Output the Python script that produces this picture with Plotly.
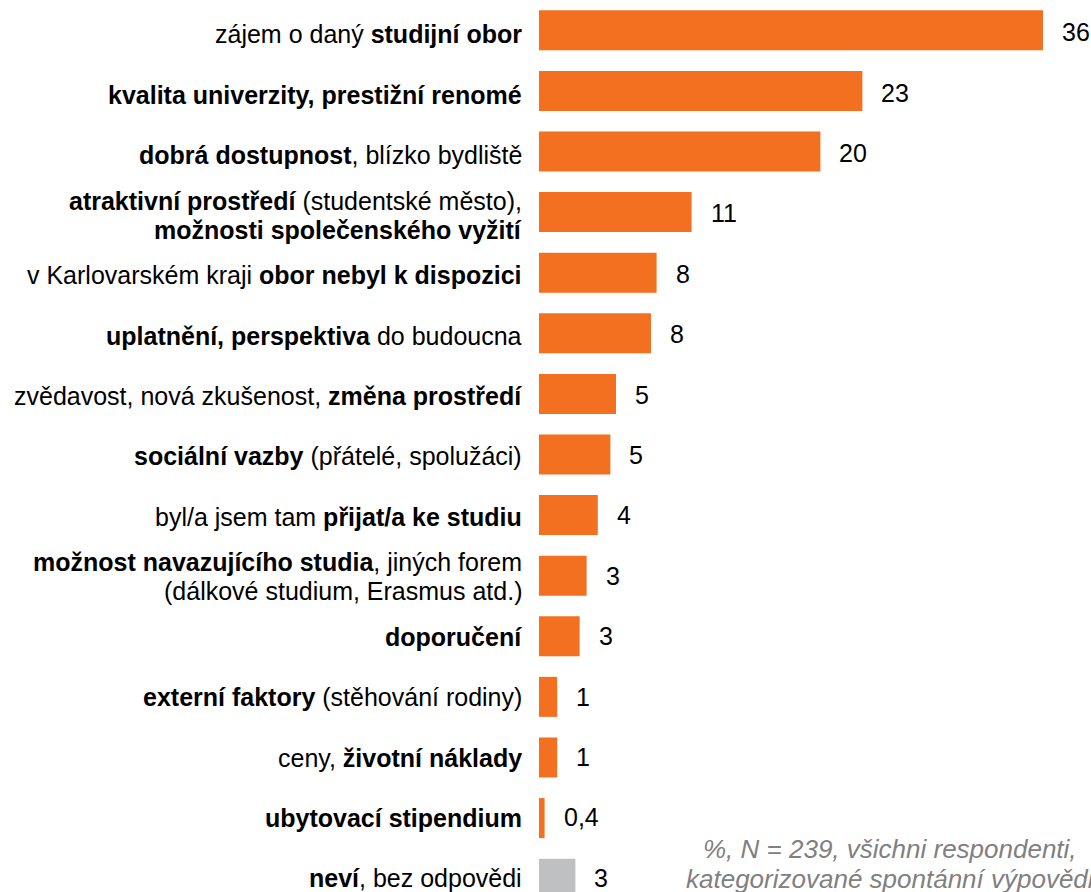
import plotly.graph_objects as go

# Category labels (each list item = one text line; <b> marks bold parts)
categories = [
    ["zájem o daný <b>studijní obor</b>"],
    ["<b>kvalita univerzity, prestižní renomé</b>"],
    ["<b>dobrá dostupnost</b>, blízko bydliště"],
    ["<b>atraktivní prostředí</b> (studentské město),", "<b>možnosti společenského vyžití</b>"],
    ["v Karlovarském kraji <b>obor nebyl k dispozici</b>"],
    ["<b>uplatnění, perspektiva</b> do budoucna"],
    ["zvědavost, nová zkušenost, <b>změna prostředí</b>"],
    ["<b>sociální vazby</b> (přátelé, spolužáci)"],
    ["byl/a jsem tam <b>přijat/a ke studiu</b>"],
    ["<b>možnost navazujícího studia</b>, jiných forem", "(dálkové studium, Erasmus atd.)"],
    ["<b>doporučení</b>"],
    ["<b>externí faktory</b> (stěhování rodiny)"],
    ["ceny, <b>životní náklady</b>"],
    ["<b>ubytovací stipendium</b>"],
    ["<b>neví</b>, bez odpovědi"],
]
values = [36.0, 23.1, 20.1, 10.9, 8.4, 8.0, 5.5, 5.1, 4.2, 3.4, 2.9, 1.3, 1.3, 0.4, 2.6]
value_labels = ["36", "23", "20", "11", "8", "8", "5", "5", "4", "3", "3", "1", "1", "0,4", "3"]
is_no_answer = [False] * 14 + [True]
note_lines = ["%, N = 239, všichni respondenti,", "kategorizované spontánní výpovědi"]

ORANGE = "#F37021"
GREY = "#BFC0C2"
FONT = "Liberation Sans, Arial, sans-serif"

keys = [" ".join(c) for c in categories]
colors = [GREY if g else ORANGE for g in is_no_answer]

fig = go.Figure(go.Bar(
    x=values, y=keys, orientation="h",
    marker=dict(color=colors, line=dict(width=0)),
    width=0.66, hoverinfo="skip",
))

annotations = []
for i, (key, lines) in enumerate(zip(keys, categories)):
    n = len(lines)
    base = -4 + 0.32 * i  # text rows drift slightly against the bar rows
    for j, line in enumerate(lines):
        shift = (n - 1) / 2 * 29 - j * 29 + base
        annotations.append(dict(
            x=0, xref="paper", y=key, yref="y", text=line,
            xanchor="right", yanchor="middle", xshift=-15, yshift=shift,
            showarrow=False, font=dict(family=FONT, size=25, color="#000000"),
        ))
for i, (key, v, lab) in enumerate(zip(keys, values, value_labels)):
    annotations.append(dict(
        x=v, xref="x", y=key, yref="y", text=lab,
        xanchor="left", yanchor="middle", xshift=17, yshift=-2 + 0.2 * i,
        showarrow=False, font=dict(family=FONT, size=25, color="#000000"),
    ))
for j, line in enumerate(note_lines):
    annotations.append(dict(
        x=0.636, xref="paper", y=0.048 - j * 0.0336, yref="paper", text=f"<i>{line}</i>",
        xanchor="center", yanchor="middle", showarrow=False,
        font=dict(family=FONT, size=26, color="#808080"),
    ))

fig.update_layout(
    width=1091, height=892,
    margin=dict(l=539, r=0, t=0, b=0),
    paper_bgcolor="white", plot_bgcolor="white",
    showlegend=False,
    xaxis=dict(range=[0, 39.43], visible=False, fixedrange=True),
    yaxis=dict(categoryorder="array", categoryarray=keys,
               range=[14.22, -0.5], visible=False, fixedrange=True),
    annotations=annotations,
    font=dict(family=FONT),
)

fig.write_html(
    "out.html",
    config={"displayModeBar": False},
    post_script="document.body.style.margin='0';document.body.style.overflow='hidden';",
)
